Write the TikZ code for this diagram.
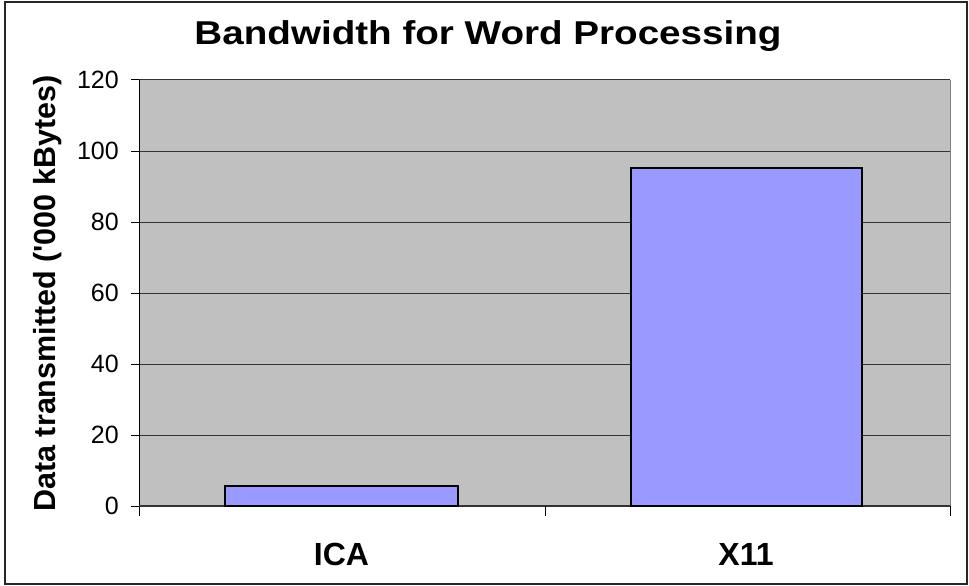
\documentclass[tikz,border=0pt]{standalone}
\usepackage{fontspec}
\setmainfont{Liberation Sans}
\newfontfamily\titlefont[FakeStretch=1.17]{Liberation Sans}
\usepackage{tikz}
\definecolor{plotgray}{HTML}{C0C0C0}
\definecolor{barblue}{HTML}{9999FF}
\tikzset{
  gridline/.style={line width=1pt, color=black!80},
  ticklabel/.style={font=\fontsize{25}{25}\selectfont, anchor=east, inner sep=0pt},
  catlabel/.style={font=\fontsize{32}{32}\selectfont\bfseries, anchor=base, inner sep=0pt},
  bar/.style={fill=barblue, draw=black, line width=1.6pt}
}

\begin{document}
\begin{tikzpicture}[x=1pt, y=-1pt]
			%%%%% START %%%%%
			
			\useasboundingbox (0,0) rectangle (969,586);
			\draw[line width=1.5pt, color=black!85] (5,2) rectangle (967,584);
			
			\fill[plotgray] (139,80) rectangle (950,506);
			\draw[line width=1pt, color=black!50] (950,80) -- (950,506);
			
			\foreach \v in {20,40,...,120}
				\draw[gridline] (139,{506-3.55*\v}) -- (950,{506-3.55*\v});
			
			\foreach \v in {0,20,...,120} {
				\draw[line width=1pt] (131,{506-3.55*\v}) -- (139,{506-3.55*\v});
				\node[ticklabel] (lbl\v) at (119,{506-3.55*\v}) {\v};
			}
			
			\draw[line width=1pt] (139,80) -- (139,516);
			\draw[line width=1.5pt, color=black!80] (139,506) -- (950,506);
			\draw[line width=1pt] (545,506) -- (545,516);
			\draw[line width=1pt] (950,506) -- (950,516);
			
			\draw[bar] (225,486.1) rectangle (458,506);
			\draw[bar] (631,168) rectangle (862,506);
			
			\node[catlabel] (ica) at (341.5,565) {ICA};
			\node[catlabel] (x11) at (746,565) {X11};
			
			\node[anchor=base, inner sep=0pt, font=\titlefont\fontsize{33}{33}\selectfont\bfseries] (title) at (488,45) {Bandwidth for Word Processing};
			\node[anchor=base, rotate=90, inner sep=0pt, font=\fontsize{30.5}{30.5}\selectfont\bfseries] (ylabel) at (55,293.5) {Data transmitted (\textquotesingle 000 kBytes)};
			
			%%%%% END %%%%%
		\end{tikzpicture}
\end{document}
